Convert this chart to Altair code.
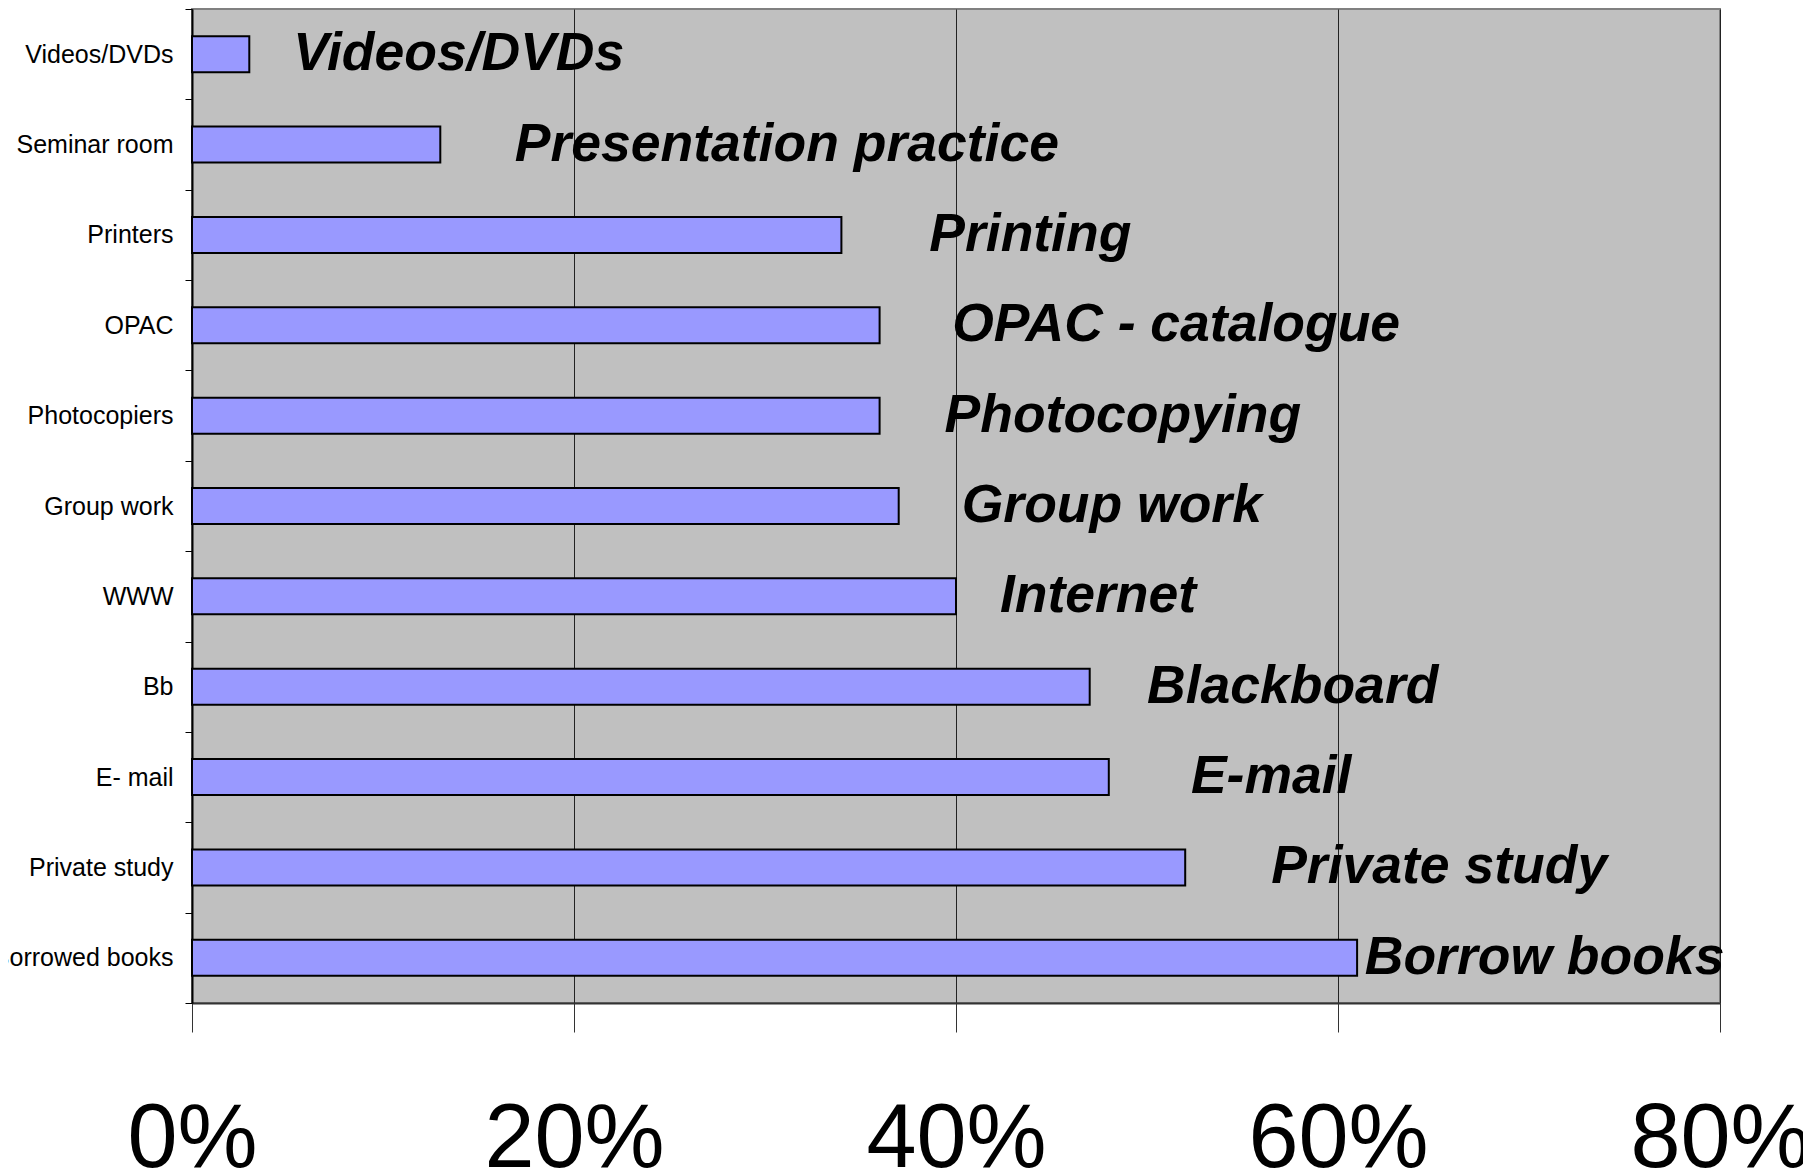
import altair as alt
import pandas as pd

categories = ["Videos/DVDs", "Seminar room", "Printers", "OPAC", "Photocopiers",
              "Group work", "WWW", "Bb", "E- mail", "Private study", "Borrowed books"]
values = [3, 13, 34, 36, 36, 37, 40, 47, 48, 52, 61]
labels = ["Videos/DVDs", "Presentation practice", "Printing", "OPAC - catalogue",
          "Photocopying", "Group work", "Internet", "Blackboard", "E-mail",
          "Private study", "Borrow books"]
label_x = [5.3, 16.9, 38.6, 39.8, 39.4, 40.3, 42.3, 50.0, 52.3, 56.5, 61.4]
x_ticks = [0, 20, 40, 60, 80]

df = pd.DataFrame({"cat": categories, "value": values, "label": labels, "lx": label_x})

FONT = "Liberation Sans"

y_enc = alt.Y("cat:N", sort=None, title=None,
              scale=alt.Scale(paddingInner=0, paddingOuter=0),
              axis=alt.Axis(labelFont=FONT, labelFontSize=25, labelColor="black",
                            labelPadding=12, tickSize=7, tickColor="black",
                            tickBand="extent", domainColor="black", domainWidth=2,
                            labelLimit=400, grid=False))

x_scale = alt.Scale(domain=[0, 80], nice=False)

bars = alt.Chart(df).mark_bar(fill="#9999FF", stroke="black", strokeWidth=2, size=36).encode(
    x=alt.X("value:Q", scale=x_scale, title=None,
            axis=alt.Axis(values=x_ticks, labelExpr="datum.value + '%'",
                          labelFont=FONT, labelFontSize=90, labelColor="black",
                          labelBaseline="alphabetic", labelPadding=134, labelFlush=False,
                          labelLimit=600, labelOverlap=False,
                          tickSize=29, tickColor="#333333", domainColor="#333333",
                          domainWidth=2, grid=True, gridColor="#222222", gridWidth=1)),
    y=y_enc,
)

text = alt.Chart(df).mark_text(align="left", baseline="middle", font=FONT,
                               fontSize=53.5, fontWeight="bold", fontStyle="italic",
                               color="black").encode(
    x=alt.X("lx:Q", scale=x_scale),
    y=alt.Y("cat:N", sort=None),
    text="label:N",
)

chart = alt.layer(bars, text).properties(
    width=1528, height=994,
    padding={"left": 184, "top": 1, "right": 83, "bottom": 168},
    autosize=alt.AutoSizeParams(type="none"),
).configure_view(fill="#C0C0C0", stroke="#808080", strokeWidth=2)

chart.save("out.html", embed_options={"renderer": "svg", "actions": False})
